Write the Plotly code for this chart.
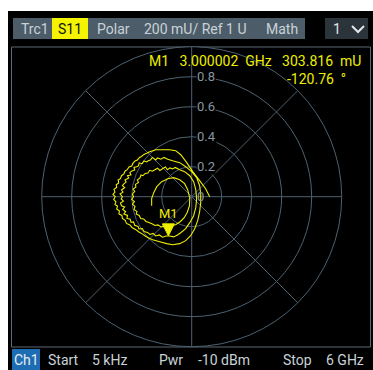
import numpy as np
import plotly.graph_objects as go

W, H = 373, 370

# S11 reflection coefficient over the sweep, complex (linear units)
s11 = [
    # first turn
    0.120+0.000j, 0.093+0.053j, 0.053+0.107j, 0.007+0.167j, -0.033+0.227j,
    -0.073+0.280j, -0.107+0.307j, -0.147+0.313j, -0.193+0.313j, -0.240+0.313j,
    -0.280+0.300j, -0.300+0.290j, -0.318+0.282j, -0.335+0.268j, -0.348+0.262j,
    -0.362+0.245j, -0.378+0.238j, -0.392+0.222j, -0.400+0.205j, -0.418+0.198j,
    -0.430+0.180j, -0.445+0.170j, -0.452+0.152j, -0.468+0.140j, -0.475+0.120j,
    -0.490+0.112j, -0.487+0.092j, -0.503+0.080j, -0.500+0.062j, -0.518+0.050j,
    -0.512+0.030j, -0.525+0.015j, -0.510+0.000j, -0.520-0.018j, -0.505-0.035j,
    -0.512-0.052j, -0.495-0.062j, -0.500-0.082j, -0.482-0.095j, -0.485-0.115j,
    -0.465-0.125j, -0.462-0.145j, -0.443-0.158j, -0.435-0.178j, -0.412-0.188j,
    -0.398-0.205j, -0.375-0.218j, -0.352-0.235j, -0.330-0.248j, -0.305-0.265j,
    -0.280-0.278j, -0.260-0.287j, -0.213-0.300j, -0.167-0.313j, -0.127-0.320j,
    -0.080-0.313j, -0.040-0.293j, -0.007-0.260j, 0.020-0.213j, 0.040-0.160j,
    0.053-0.100j, 0.060-0.040j, 0.060+0.020j, 0.053+0.073j, 0.033+0.127j,
    0.000+0.167j, -0.040+0.200j, -0.080+0.227j, -0.127+0.240j,
    # second turn
    -0.160+0.250j, -0.185+0.262j, -0.205+0.250j, -0.228+0.258j, -0.240+0.245j,
    -0.262+0.262j, -0.275+0.245j, -0.290+0.240j, -0.300+0.232j, -0.318+0.238j,
    -0.330+0.220j, -0.350+0.225j, -0.355+0.205j, -0.368+0.200j, -0.385+0.195j,
    -0.380+0.178j, -0.402+0.170j, -0.412+0.160j, -0.405+0.145j, -0.428+0.140j,
    -0.420+0.125j, -0.445+0.112j, -0.437+0.098j, -0.452+0.085j, -0.462+0.075j,
    -0.447+0.060j, -0.468+0.045j, -0.458+0.030j, -0.478+0.018j, -0.462+0.000j,
    -0.470-0.015j, -0.455-0.030j, -0.475-0.042j, -0.468-0.060j, -0.447-0.068j,
    -0.460-0.085j, -0.440-0.100j, -0.452-0.115j, -0.428-0.125j, -0.432-0.145j,
    -0.410-0.150j, -0.405-0.170j, -0.388-0.168j, -0.380-0.190j, -0.358-0.198j,
    -0.352-0.215j, -0.330-0.212j, -0.318-0.232j, -0.295-0.238j, -0.278-0.252j,
    -0.258-0.245j, -0.240-0.262j, -0.215-0.255j, -0.195-0.270j, -0.170-0.262j,
    -0.147-0.262j, -0.120-0.268j, -0.095-0.255j, -0.073-0.240j, -0.040-0.213j,
    -0.013-0.173j, 0.013-0.127j, 0.027-0.073j, 0.033-0.013j, 0.027+0.047j,
    0.013+0.100j, -0.013+0.140j, -0.047+0.167j, -0.080+0.180j,
    # third turn and end of sweep
    -0.110+0.195j, -0.128+0.185j, -0.145+0.192j, -0.162+0.180j, -0.175+0.198j,
    -0.195+0.186j, -0.212+0.175j, -0.228+0.190j, -0.248+0.178j, -0.262+0.170j,
    -0.280+0.176j, -0.292+0.158j, -0.310+0.155j, -0.325+0.140j, -0.338+0.145j,
    -0.345+0.125j, -0.362+0.112j, -0.355+0.095j, -0.375+0.082j, -0.372+0.065j,
    -0.390+0.050j, -0.380+0.035j, -0.395+0.018j, -0.388+0.000j, -0.400-0.018j,
    -0.382-0.032j, -0.395-0.050j, -0.378-0.065j, -0.385-0.085j, -0.365-0.098j,
    -0.370-0.115j, -0.350-0.125j, -0.340-0.145j, -0.320-0.148j, -0.305-0.165j,
    -0.285-0.172j, -0.265-0.180j, -0.245-0.192j, -0.225-0.188j, -0.205-0.202j,
    -0.185-0.198j, -0.160-0.205j, -0.135-0.195j, -0.105-0.185j, -0.075-0.165j,
    -0.050-0.140j, -0.030-0.105j, -0.015-0.060j, -0.013-0.007j, -0.027+0.047j,
    -0.047+0.087j, -0.080+0.113j, -0.120+0.127j, -0.160+0.120j, -0.200+0.100j,
    -0.233+0.067j, -0.253+0.027j, -0.267-0.013j, -0.267-0.060j,
]

# Marker M1
m1_name = "M1"
m1_freq = "3.000002 GHz"
m1_mag = 0.303816      # U
m1_phase = -120.76     # deg

# Radial scale
r_ticks = [0, 0.2, 0.4, 0.6, 0.8]
r_ticktext = ["0", "0.2", "0.4", "0.6", "0.8"]

# Header / footer texts
hdr_trace = "Trc1"
hdr_param = "S11"
hdr_format = "Polar"
hdr_scale = "200 mU/ Ref 1 U"
hdr_math = "Math"
hdr_win = "1"
ftr_items = [("Start", 63), ("5 kHz", 110), ("Pwr", 171), ("-10 dBm", 224),
             ("Stop", 297), ("6 GHz", 345)]

GRID = "#4d6270"
LABEL = "#8796a1"
YEL = "#eeee00"
TXT = "#c9d2d7"
FONT = "Roboto"
NB = "\u00a0"


def X(px):
    return px / W


def Y(py):
    return 1 - py / H


g = np.array(s11)
mag = np.abs(g)
ph = np.degrees(np.angle(g))

m1 = m1_mag * np.exp(1j * np.radians(m1_phase))
m1_re, m1_im = float(m1.real), float(m1.imag)

cx, cy, R = 191.7, 196.7, 150.0
dom_x = [X(cx - R), X(cx + R)]
dom_y = [Y(cy + R), Y(cy - R)]

fig = go.Figure()
fig.add_trace(go.Scatterpolar(
    r=mag, theta=ph, mode="lines",
    line=dict(color=YEL, width=1.1),
    hoverinfo="skip", showlegend=False,
))
# invisible cartesian twin, used for the marker symbol and the labels
fig.add_trace(go.Scatter(
    x=[m1_re], y=[m1_im], mode="markers",
    marker=dict(size=1, color="rgba(0,0,0,0)"),
    hoverinfo="skip", showlegend=False,
))

shapes = [
    # instrument screen
    dict(type="rect", xref="paper", yref="paper", x0=X(8), x1=X(373),
         y0=Y(370), y1=Y(11), fillcolor="black", line_width=0, layer="below"),
    # header bar
    dict(type="rect", xref="paper", yref="paper", x0=X(13), x1=X(305),
         y0=Y(39), y1=Y(18), fillcolor="#4c5d69", line_width=0, layer="below"),
    dict(type="rect", xref="paper", yref="paper", x0=X(52), x1=X(88),
         y0=Y(39), y1=Y(18), fillcolor="#f4f400", line_width=0, layer="below"),
    dict(type="rect", xref="paper", yref="paper", x0=X(325), x1=X(368),
         y0=Y(39), y1=Y(18), fillcolor="#2b343a", line_width=0, layer="below"),
    # diagram frame
    dict(type="rect", xref="paper", yref="paper", x0=X(11.5), x1=X(370.5),
         y0=Y(347), y1=Y(47), line=dict(color="#5b6b77", width=1),
         fillcolor="rgba(0,0,0,0)", layer="below"),
    # channel tag
    dict(type="rect", xref="paper", yref="paper", x0=X(12), x1=X(40),
         y0=Y(370), y1=Y(349), fillcolor="#1d6db4", line_width=0, layer="below"),
    # chevron of the window selector
    dict(type="path", xref="paper", yref="paper",
         path=f"M {X(352)} {Y(26)} L {X(358)} {Y(32)} L {X(364)} {Y(26)}",
         line=dict(color="#e2e8ea", width=2)),
    # marker symbol: triangle with its tip on the marker position
    dict(type="path", xref="x", yref="y", xsizemode="pixel", ysizemode="pixel",
         xanchor=m1_re, yanchor=m1_im,
         path="M -6 12 L 6 12 L 0 0 Z", fillcolor=YEL, line=dict(color=YEL, width=1)),
]

ann = []


def text(px, py, s, color=TXT, size=14, xanchor="left"):
    ann.append(dict(x=X(px), y=Y(py), xref="paper", yref="paper", text=s,
                    showarrow=False, xanchor=xanchor, yanchor="middle",
                    font=dict(family=FONT, size=size, color=color)))


text(19, 29, hdr_trace)
text(70, 29, hdr_param, color="#111111", xanchor="center")
text(95, 29, hdr_format)
text(142, 29, hdr_scale.replace("0 mU", "0" + NB + "mU"))
text(264, 29, hdr_math)
text(331, 29, hdr_win, color="#e2e8ea")

text(363, 61, f"{m1_name}{NB*3}{m1_freq.replace(' ', NB*2)}{NB*3}"
     f"{m1_mag * 1000:.3f}{NB*2}mU", color=YEL, xanchor="right")
text(348, 79, f"{m1_phase:.2f}{NB*2}°", color=YEL, xanchor="right")

text(26, 360, "Ch1", color="#e8eef2", xanchor="center")
for s, pcx in ftr_items:
    text(pcx, 360, s, xanchor="center")

# radial scale labels along the 90° spoke
for v, t in zip(r_ticks, r_ticktext):
    ann.append(dict(x=0, y=v, xref="x", yref="y", text=t, showarrow=False,
                    xanchor="left", yanchor="middle", xshift=4,
                    bgcolor="black" if v > 0 else None, borderpad=0,
                    font=dict(family=FONT, size=13, color=LABEL)))

ann.append(dict(x=m1_re, y=m1_im, xref="x", yref="y", text=m1_name,
                showarrow=False, xanchor="center", yanchor="bottom", yshift=13,
                font=dict(family=FONT, size=13, color=YEL)))

fig.update_layout(
    width=W, height=H, margin=dict(l=0, r=0, t=0, b=0),
    paper_bgcolor="white", plot_bgcolor="rgba(0,0,0,0)",
    shapes=shapes, annotations=ann, showlegend=False,
    polar=dict(
        domain=dict(x=dom_x, y=dom_y),
        bgcolor="black",
        radialaxis=dict(
            range=[0, 1], angle=90, tickvals=r_ticks,
            showticklabels=False, showline=False, ticks="",
            gridcolor=GRID, gridwidth=1,
        ),
        angularaxis=dict(
            dtick=45, showticklabels=False, ticks="",
            gridcolor=GRID, gridwidth=1, linecolor=GRID, linewidth=1,
        ),
    ),
    xaxis=dict(domain=dom_x, range=[-1, 1], visible=False, fixedrange=True),
    yaxis=dict(domain=dom_y, range=[-1, 1], visible=False, fixedrange=True),
)

fig.write_html("out.html")
